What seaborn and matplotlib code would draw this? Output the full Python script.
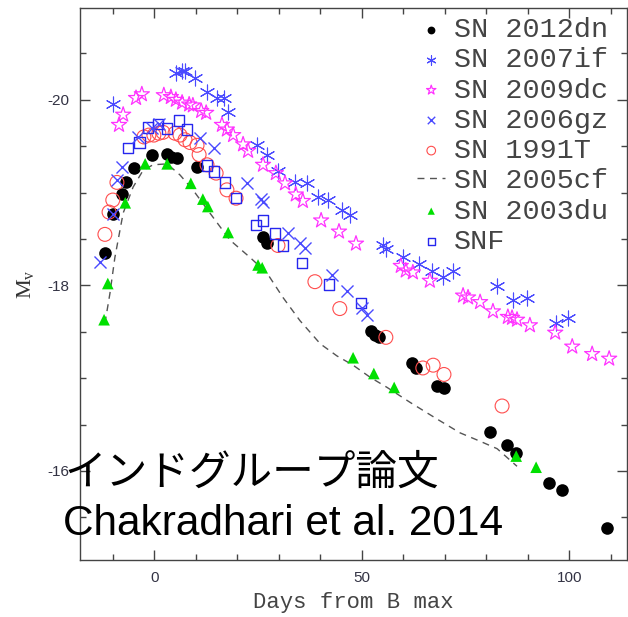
import numpy as np
import pandas as pd
import matplotlib
matplotlib.use("Agg")
import matplotlib.pyplot as plt
import seaborn as sns
from matplotlib.ticker import MultipleLocator, FixedLocator

sns.set_theme(style="white")
plt.rcParams['font.family'] = ['DejaVu Sans']
plt.rcParams['axes.unicode_minus'] = False

# ---------------- data (days from B max, absolute V magnitude) ----------------
sn2012dn_day = [-11.9, -10.0, -7.8, -6.8, -4.9, -0.5, 3.1, 4.0, 5.5, 10.3, 26.2, 27.2,
                52.2, 53.2, 54.1, 62.1, 63.0, 68.1, 69.8, 80.9, 85.0, 87.2, 95.1, 98.3, 109.1]
sn2012dn_mag = [-18.35, -18.77, -18.99, -19.11, -19.26, -19.41, -19.42, -19.38, -19.37, -19.28,
                -18.52, -18.46, -17.51, -17.47, -17.44, -17.16, -17.11, -16.92, -16.89,
                -16.42, -16.28, -16.19, -15.87, -15.79, -15.38]

sn2007if_day = [-10.0, 5.2, 6.7, 7.4, 9.8, 12.7, 15.1, 16.8, 17.8, 24.7, 27.2, 29.8, 33.9,
                36.8, 39.4, 41.9, 45.2, 47.2, 55.1, 55.8, 59.9, 63.8, 66.9, 69.6, 72.0,
                82.6, 86.4, 89.8, 96.8, 99.7]
sn2007if_mag = [-19.95, -20.29, -20.31, -20.31, -20.24, -20.08, -20.02, -20.02, -19.87, -19.51,
                -19.41, -19.23, -19.11, -19.10, -18.95, -18.92, -18.81, -18.76, -18.43, -18.39,
                -18.31, -18.23, -18.16, -18.09, -18.16, -17.99, -17.84, -17.86, -17.59, -17.65]

sn2009dc_day = [-8.5, -7.5, -4.4, -3.0, 2.3, 4.0, 5.2, 6.7, 8.4, 9.3, 11.3, 12.5, 16.3, 17.5,
                19.0, 21.4, 22.6, 26.2, 29.3, 31.5, 34.1, 35.8, 40.2, 44.5, 48.6, 59.4, 60.6,
                62.3, 66.4, 74.4, 75.6, 78.5, 81.6, 85.2, 86.2, 87.4, 90.5, 96.6, 100.7,
                105.5, 109.6]
sn2009dc_mag = [-19.73, -19.84, -20.02, -20.06, -20.05, -20.03, -20.00, -19.97, -19.95, -19.94,
                -19.88, -19.86, -19.73, -19.68, -19.62, -19.52, -19.45, -19.30, -19.21, -19.10,
                -18.98, -18.91, -18.70, -18.58, -18.45, -18.21, -18.16, -18.14, -18.05, -17.89,
                -17.87, -17.82, -17.72, -17.66, -17.65, -17.63, -17.57, -17.49, -17.34,
                -17.26, -17.21]

sn2006gz_day = [-13.1, -10.0, -9.0, -7.8, -3.9, -0.5, 1.1, 11.0, 14.4, 22.3, 25.7, 26.2,
                32.2, 35.1, 36.3, 42.8, 46.4, 50.0, 51.2]
sn2006gz_mag = [-18.25, -18.77, -19.14, -19.28, -19.60, -19.70, -19.74, -19.59, -19.48, -19.10,
                -18.93, -18.90, -18.56, -18.46, -18.40, -18.11, -17.94, -17.76, -17.68]

sn1991t_day = [-11.9, -10.9, -10.0, -9.0, -2.5, -1.3, -0.1, 1.1, 2.1, 5.0, 6.2, 7.4, 8.6,
               10.3, 10.8, 12.7, 14.9, 17.5, 19.7, 29.8, 38.7, 44.7, 55.8, 64.7, 67.2, 69.8, 83.8]
sn1991t_mag = [-18.55, -18.79, -18.92, -19.11, -19.60, -19.62, -19.62, -19.64, -19.65, -19.64,
               -19.62, -19.57, -19.54, -19.51, -19.41, -19.30, -19.21, -19.03, -18.94, -18.43,
               -18.04, -17.75, -17.44, -17.11, -17.14, -17.04, -16.70]

sn2005cf_day = [-11.9, -10.7, -9.5, -7.5, -5.1, -2.7, -0.3, 3.1, 6.2, 9.3, 13.4, 18.2, 23.1,
                27.2, 31.0, 35.1, 40.0, 44.0, 47.9, 52.0, 56.1, 61.6, 68.1, 73.7, 78.5, 82.6, 87.4]
sn2005cf_mag = [-17.59, -17.91, -18.30, -18.78, -19.06, -19.24, -19.30, -19.31, -19.19, -19.03,
                -18.78, -18.49, -18.30, -18.13, -17.87, -17.62, -17.37, -17.24, -17.14, -17.01,
                -16.90, -16.74, -16.56, -16.41, -16.32, -16.24, -16.05]

sn2003du_day = [-12.1, -11.2, -7.0, -2.2, 3.1, 8.8, 11.7, 12.9, 17.8, 25.0, 26.0,
                47.9, 52.9, 57.8, 87.2, 92.0]
sn2003du_mag = [-17.63, -18.02, -18.89, -19.31, -19.31, -19.10, -18.93, -18.85, -18.57, -18.22,
                -18.19, -17.22, -17.05, -16.90, -16.16, -16.04]

snf_day = [-6.3, -3.5, -1.5, 0.9, 3.1, 6.0, 7.9, 12.7, 14.4, 17.0, 19.7, 24.5, 26.2, 29.1,
           31.0, 35.6, 42.1, 49.8]
snf_mag = [-19.48, -19.54, -19.70, -19.74, -19.69, -19.78, -19.68, -19.29, -19.23, -19.11,
           -18.94, -18.65, -18.70, -18.56, -18.43, -18.24, -18.01, -17.81]

legend_labels = ["SN 2012dn", "SN 2007if", "SN 2009dc", "SN 2006gz",
                 "SN 1991T", "SN 2005cf", "SN 2003du", "SNF"]
x_ticks = [0, 50, 100]
y_ticks = [-20, -18, -16]
x_label = "Days from B max"
overlay_jp = "インドグループ論文"
overlay_en = "Chakradhari et al. 2014"

# ---------------- figure ----------------
W, H = 628, 617
fig = plt.figure(figsize=(W / 100, H / 100), dpi=100)
ax = fig.add_axes([80 / W, 1 - 560 / H, (627 - 80) / W, (560 - 8) / H])

blue = "#4a4aff"
handles = {}

sns.scatterplot(x=sn2012dn_day, y=sn2012dn_mag, marker="o", s=82, color="black",
                edgecolor="black", linewidth=0, ax=ax, legend=False, zorder=3)
handles["SN 2012dn"] = ax.collections[-1]

sns.lineplot(x=sn2005cf_day, y=sn2005cf_mag, color="#555555", linewidth=1.0,
             linestyle=(0, (5, 4)), ax=ax, legend=False, sort=False, estimator=None, zorder=3)
handles["SN 2005cf"] = ax.lines[-1]

sns.scatterplot(x=sn2003du_day, y=sn2003du_mag, marker="^", s=70, color="#00e000",
                edgecolor="none", linewidth=0, ax=ax, legend=False, zorder=4)
handles["SN 2003du"] = ax.collections[-1]

sns.scatterplot(x=sn1991t_day, y=sn1991t_mag, marker="o", s=100, facecolor="none",
                edgecolor="#ff4d4d", linewidth=0.8, ax=ax, legend=False, zorder=4)
handles["SN 1991T"] = ax.collections[-1]

sns.scatterplot(x=snf_day, y=snf_mag, marker="s", s=58, facecolor="none",
                edgecolor="#2626ee", linewidth=1.0, ax=ax, legend=False, zorder=5)
handles["SNF"] = ax.collections[-1]

sns.scatterplot(x=sn2006gz_day, y=sn2006gz_mag, marker="x", s=75, color=blue,
                linewidth=1.0, ax=ax, legend=False, zorder=5)
handles["SN 2006gz"] = ax.collections[-1]

sns.scatterplot(x=sn2007if_day, y=sn2007if_mag, marker=(6, 2, 0), s=115, color=blue,
                linewidth=0.8, ax=ax, legend=False, zorder=5)
handles["SN 2007if"] = ax.collections[-1]

sns.scatterplot(x=sn2009dc_day, y=sn2009dc_mag, marker="*", s=130, facecolor="none",
                edgecolor="#ff33ff", linewidth=0.9, ax=ax, legend=False, zorder=5)
handles["SN 2009dc"] = ax.collections[-1]

# ---------------- axes styling ----------------
ax.set_xlim(-17.9, 113.9)
ax.set_ylim(-15.04, -20.99)
ax.xaxis.set_major_locator(FixedLocator(x_ticks))
ax.xaxis.set_minor_locator(MultipleLocator(10))
ax.yaxis.set_major_locator(FixedLocator(y_ticks))
ax.yaxis.set_minor_locator(MultipleLocator(0.5))
ax.set_xticklabels([str(v) for v in x_ticks])
ax.set_yticklabels([str(v) for v in y_ticks])

spine_c = "#444444"
for sp in ax.spines.values():
    sp.set_color(spine_c)
    sp.set_linewidth(1.0)
    sp.set_visible(True)
ax.tick_params(which="both", direction="in", top=True, right=True, bottom=True, left=True,
               color=spine_c, width=1.0)
ax.tick_params(which="major", length=7, pad=8, labelsize=11, labelcolor="#333344")
ax.tick_params(which="minor", length=4.3)
for lab in ax.get_xticklabels() + ax.get_yticklabels():
    lab.set_family(["Liberation Sans"])
ax.grid(False)

ax.set_xlabel(x_label, family=["Liberation Mono"], fontsize=16, color="#444444", labelpad=5)
ax.set_ylabel(r"$\mathregular{M_v}$", family=["Liberation Serif"], fontsize=16,
              color="#333333", labelpad=8)

# ---------------- legend ----------------
leg = ax.legend([handles[k] for k in legend_labels], legend_labels,
                loc="upper left", bbox_to_anchor=(417 / W, 1 - 17 / H),
                bbox_transform=fig.transFigure, frameon=False,
                prop={"family": ["Liberation Mono"], "size": 20.5},
                markerscale=0.62, handlelength=1.0, handletextpad=0.3,
                labelspacing=0.15, borderpad=0, borderaxespad=0)
for t in leg.get_texts():
    t.set_color("#444444")

# ---------------- overlay text ----------------
fig.text(64 / W, 1 - 485 / H, overlay_jp, family=["Noto Sans CJK JP", "DejaVu Sans"],
         fontsize=30, color="black", va="baseline", ha="left", zorder=20)
fig.text(63 / W, 1 - 535 / H, overlay_en, family=["Liberation Sans"],
         fontsize=30.5, color="black", va="baseline", ha="left", zorder=20)

fig.savefig("out.png", dpi=100)
